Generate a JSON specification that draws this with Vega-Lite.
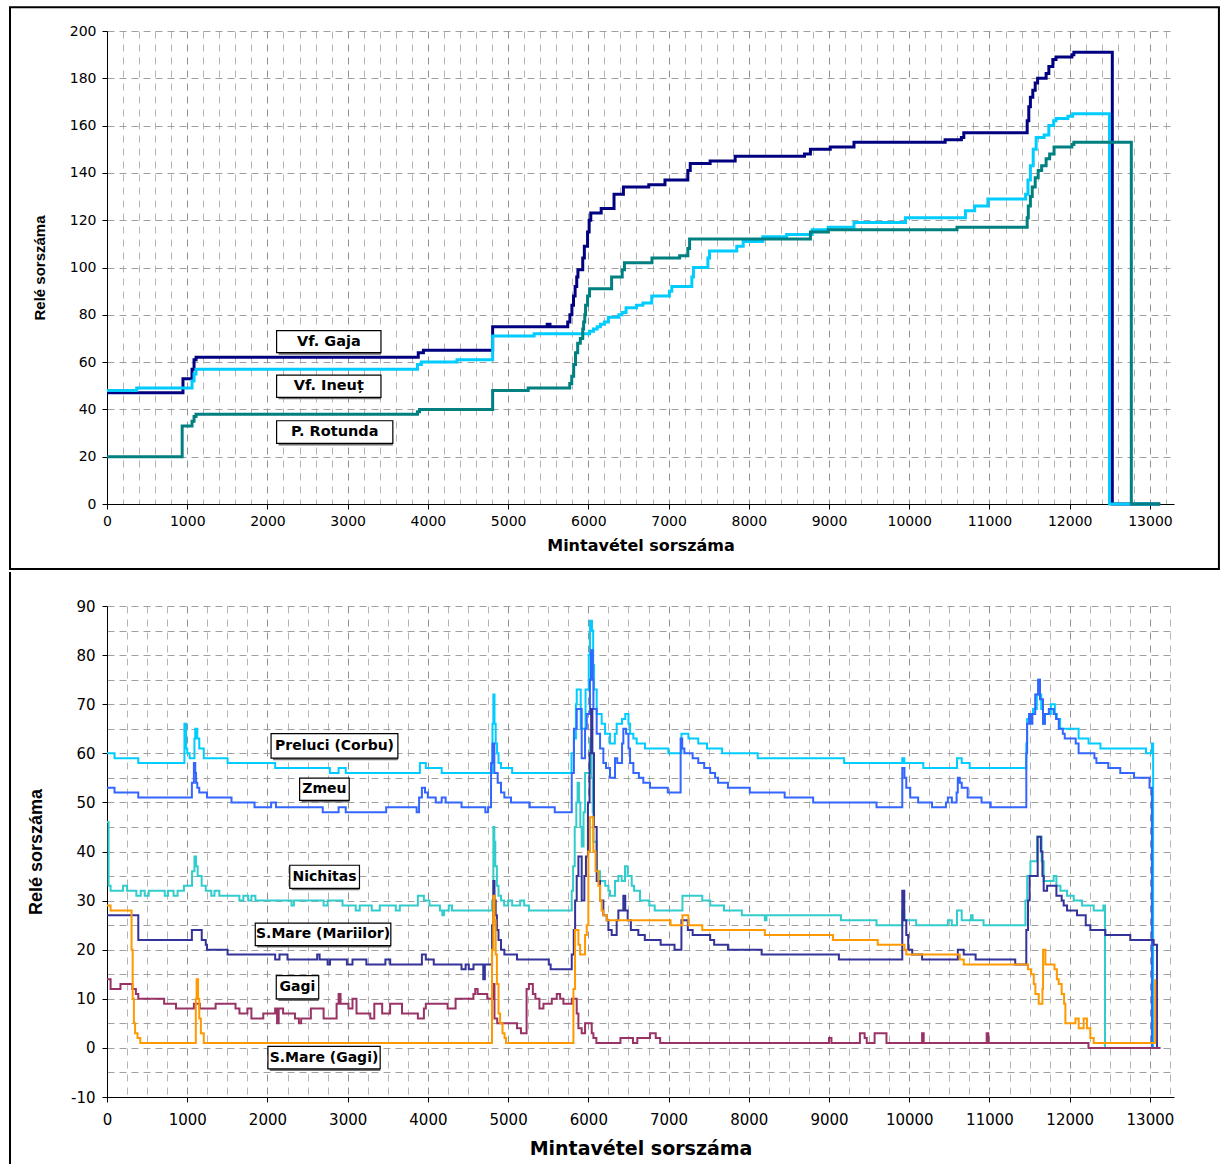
{
"$schema": "https://vega.github.io/schema/vega-lite/v6.json",
"padding": {"left": 9, "top": 6, "right": 0, "bottom": 0},
"background": "white",
"spacing": 0,
"resolve": {"scale": {"color": "independent"}},
"config": {
  "view": {"stroke": null},
  "axis": {"domainColor": "black", "tickColor": "black", "labelColor": "black", "titleColor": "black", "labelFont": "DejaVu Sans", "titleFont": "DejaVu Sans", "titleFontWeight": "bold", "gridColor": "#a8a8a8", "gridWidth": 1, "domainWidth": 1, "tickWidth": 1, "tickSize": 5, "labelOverlap": false, "labelFlush": false, "tickCount": 500}
},
"datasets": {
"top": [
{"s":"Vf. Gaja","x":0,"y":47},{"s":"Vf. Gaja","x":947,"y":53},{"s":"Vf. Gaja","x":1060,"y":57},{"s":"Vf. Gaja","x":1085,"y":61},{"s":"Vf. Gaja","x":1110,"y":62},{"s":"Vf. Gaja","x":3880,"y":64},{"s":"Vf. Gaja","x":3944,"y":65},{"s":"Vf. Gaja","x":4807,"y":75},{"s":"Vf. Gaja","x":5487,"y":76},{"s":"Vf. Gaja","x":5522,"y":75},{"s":"Vf. Gaja","x":5743,"y":77},{"s":"Vf. Gaja","x":5770,"y":80},{"s":"Vf. Gaja","x":5795,"y":84},{"s":"Vf. Gaja","x":5815,"y":88},{"s":"Vf. Gaja","x":5835,"y":92},{"s":"Vf. Gaja","x":5855,"y":96},{"s":"Vf. Gaja","x":5870,"y":99},{"s":"Vf. Gaja","x":5930,"y":104},{"s":"Vf. Gaja","x":5950,"y":109},{"s":"Vf. Gaja","x":5990,"y":115},{"s":"Vf. Gaja","x":6010,"y":120},{"s":"Vf. Gaja","x":6030,"y":123},{"s":"Vf. Gaja","x":6160,"y":125},{"s":"Vf. Gaja","x":6320,"y":131},{"s":"Vf. Gaja","x":6437,"y":134},{"s":"Vf. Gaja","x":6753,"y":135},{"s":"Vf. Gaja","x":6955,"y":137},{"s":"Vf. Gaja","x":7240,"y":141},{"s":"Vf. Gaja","x":7270,"y":144},{"s":"Vf. Gaja","x":7518,"y":145},{"s":"Vf. Gaja","x":7830,"y":147},{"s":"Vf. Gaja","x":8694,"y":148},{"s":"Vf. Gaja","x":8768,"y":150},{"s":"Vf. Gaja","x":9015,"y":151},{"s":"Vf. Gaja","x":9311,"y":153},{"s":"Vf. Gaja","x":10447,"y":154},{"s":"Vf. Gaja","x":10650,"y":155},{"s":"Vf. Gaja","x":10680,"y":157},{"s":"Vf. Gaja","x":11470,"y":162},{"s":"Vf. Gaja","x":11490,"y":168},{"s":"Vf. Gaja","x":11510,"y":172},{"s":"Vf. Gaja","x":11540,"y":175},{"s":"Vf. Gaja","x":11570,"y":178},{"s":"Vf. Gaja","x":11600,"y":180},{"s":"Vf. Gaja","x":11706,"y":182},{"s":"Vf. Gaja","x":11740,"y":185},{"s":"Vf. Gaja","x":11790,"y":188},{"s":"Vf. Gaja","x":11829,"y":189},{"s":"Vf. Gaja","x":12027,"y":190},{"s":"Vf. Gaja","x":12052,"y":191},{"s":"Vf. Gaja","x":12531,"y":0},{"s":"Vf. Gaja","x":13128,"y":0},
{"s":"Vf. Ineuț","x":0,"y":48},{"s":"Vf. Ineuț","x":370,"y":49},{"s":"Vf. Ineuț","x":1060,"y":52},{"s":"Vf. Ineuț","x":1085,"y":55},{"s":"Vf. Ineuț","x":1109,"y":57},{"s":"Vf. Ineuț","x":3870,"y":59},{"s":"Vf. Ineuț","x":3919,"y":60},{"s":"Vf. Ineuț","x":4363,"y":61},{"s":"Vf. Ineuț","x":4807,"y":71},{"s":"Vf. Ineuț","x":5324,"y":72},{"s":"Vf. Ineuț","x":6015,"y":73},{"s":"Vf. Ineuț","x":6064,"y":74},{"s":"Vf. Ineuț","x":6110,"y":75},{"s":"Vf. Ineuț","x":6150,"y":76},{"s":"Vf. Ineuț","x":6200,"y":77},{"s":"Vf. Ineuț","x":6250,"y":79},{"s":"Vf. Ineuț","x":6380,"y":80},{"s":"Vf. Ineuț","x":6420,"y":81},{"s":"Vf. Ineuț","x":6470,"y":83},{"s":"Vf. Ineuț","x":6600,"y":84},{"s":"Vf. Ineuț","x":6680,"y":85},{"s":"Vf. Ineuț","x":6790,"y":88},{"s":"Vf. Ineuț","x":7010,"y":90},{"s":"Vf. Ineuț","x":7040,"y":92},{"s":"Vf. Ineuț","x":7290,"y":96},{"s":"Vf. Ineuț","x":7310,"y":100},{"s":"Vf. Ineuț","x":7490,"y":104},{"s":"Vf. Ineuț","x":7510,"y":107},{"s":"Vf. Ineuț","x":7850,"y":109},{"s":"Vf. Ineuț","x":7930,"y":111},{"s":"Vf. Ineuț","x":8175,"y":113},{"s":"Vf. Ineuț","x":8472,"y":114},{"s":"Vf. Ineuț","x":8790,"y":116},{"s":"Vf. Ineuț","x":8990,"y":117},{"s":"Vf. Ineuț","x":9311,"y":119},{"s":"Vf. Ineuț","x":9953,"y":121},{"s":"Vf. Ineuț","x":10700,"y":124},{"s":"Vf. Ineuț","x":10815,"y":126},{"s":"Vf. Ineuț","x":10980,"y":129},{"s":"Vf. Ineuț","x":11450,"y":131},{"s":"Vf. Ineuț","x":11480,"y":137},{"s":"Vf. Ineuț","x":11510,"y":143},{"s":"Vf. Ineuț","x":11545,"y":150},{"s":"Vf. Ineuț","x":11582,"y":155},{"s":"Vf. Ineuț","x":11681,"y":156},{"s":"Vf. Ineuț","x":11740,"y":160},{"s":"Vf. Ineuț","x":11800,"y":162},{"s":"Vf. Ineuț","x":11829,"y":163},{"s":"Vf. Ineuț","x":11977,"y":164},{"s":"Vf. Ineuț","x":12037,"y":165},{"s":"Vf. Ineuț","x":12496,"y":0},{"s":"Vf. Ineuț","x":13128,"y":0},
{"s":"P. Rotunda","x":0,"y":20},{"s":"P. Rotunda","x":937,"y":33},{"s":"P. Rotunda","x":1060,"y":35},{"s":"P. Rotunda","x":1085,"y":37},{"s":"P. Rotunda","x":1110,"y":38},{"s":"P. Rotunda","x":3870,"y":39},{"s":"P. Rotunda","x":3895,"y":40},{"s":"P. Rotunda","x":4807,"y":48},{"s":"P. Rotunda","x":5250,"y":49},{"s":"P. Rotunda","x":5768,"y":51},{"s":"P. Rotunda","x":5793,"y":54},{"s":"P. Rotunda","x":5817,"y":59},{"s":"P. Rotunda","x":5840,"y":64},{"s":"P. Rotunda","x":5867,"y":68},{"s":"P. Rotunda","x":5900,"y":70},{"s":"P. Rotunda","x":5930,"y":74},{"s":"P. Rotunda","x":5941,"y":77},{"s":"P. Rotunda","x":5955,"y":80},{"s":"P. Rotunda","x":5965,"y":84},{"s":"P. Rotunda","x":5990,"y":88},{"s":"P. Rotunda","x":6015,"y":91},{"s":"P. Rotunda","x":6290,"y":96},{"s":"P. Rotunda","x":6422,"y":99},{"s":"P. Rotunda","x":6450,"y":102},{"s":"P. Rotunda","x":6793,"y":104},{"s":"P. Rotunda","x":7138,"y":105},{"s":"P. Rotunda","x":7240,"y":108},{"s":"P. Rotunda","x":7262,"y":112},{"s":"P. Rotunda","x":8768,"y":115},{"s":"P. Rotunda","x":8990,"y":116},{"s":"P. Rotunda","x":10595,"y":117},{"s":"P. Rotunda","x":11470,"y":121},{"s":"P. Rotunda","x":11484,"y":126},{"s":"P. Rotunda","x":11510,"y":130},{"s":"P. Rotunda","x":11533,"y":134},{"s":"P. Rotunda","x":11570,"y":138},{"s":"P. Rotunda","x":11607,"y":141},{"s":"P. Rotunda","x":11650,"y":143},{"s":"P. Rotunda","x":11706,"y":146},{"s":"P. Rotunda","x":11750,"y":148},{"s":"P. Rotunda","x":11805,"y":151},{"s":"P. Rotunda","x":12027,"y":152},{"s":"P. Rotunda","x":12052,"y":153},{"s":"P. Rotunda","x":12768,"y":0},{"s":"P. Rotunda","x":13128,"y":0}
],
"bot": [
{"s":"Preluci (Corbu)","x":0,"y":60},{"s":"Preluci (Corbu)","x":94,"y":59},{"s":"Preluci (Corbu)","x":390,"y":58},{"s":"Preluci (Corbu)","x":965,"y":66},{"s":"Preluci (Corbu)","x":985,"y":61},{"s":"Preluci (Corbu)","x":1000,"y":60},{"s":"Preluci (Corbu)","x":1030,"y":59},{"s":"Preluci (Corbu)","x":1090,"y":63},{"s":"Preluci (Corbu)","x":1100,"y":65},{"s":"Preluci (Corbu)","x":1125,"y":63},{"s":"Preluci (Corbu)","x":1150,"y":61},{"s":"Preluci (Corbu)","x":1206,"y":59},{"s":"Preluci (Corbu)","x":1503,"y":58},{"s":"Preluci (Corbu)","x":2096,"y":57},{"s":"Preluci (Corbu)","x":2778,"y":56},{"s":"Preluci (Corbu)","x":2887,"y":57},{"s":"Preluci (Corbu)","x":2976,"y":56},{"s":"Preluci (Corbu)","x":3900,"y":58},{"s":"Preluci (Corbu)","x":3974,"y":57},{"s":"Preluci (Corbu)","x":4172,"y":56},{"s":"Preluci (Corbu)","x":4805,"y":66},{"s":"Preluci (Corbu)","x":4816,"y":72},{"s":"Preluci (Corbu)","x":4830,"y":66},{"s":"Preluci (Corbu)","x":4845,"y":62},{"s":"Preluci (Corbu)","x":4862,"y":60},{"s":"Preluci (Corbu)","x":4880,"y":58},{"s":"Preluci (Corbu)","x":4911,"y":57},{"s":"Preluci (Corbu)","x":5050,"y":56},{"s":"Preluci (Corbu)","x":5790,"y":60},{"s":"Preluci (Corbu)","x":5820,"y":63},{"s":"Preluci (Corbu)","x":5845,"y":70},{"s":"Preluci (Corbu)","x":5855,"y":73},{"s":"Preluci (Corbu)","x":5905,"y":65},{"s":"Preluci (Corbu)","x":5965,"y":73},{"s":"Preluci (Corbu)","x":6005,"y":80},{"s":"Preluci (Corbu)","x":6021,"y":87},{"s":"Preluci (Corbu)","x":6045,"y":85},{"s":"Preluci (Corbu)","x":6060,"y":78},{"s":"Preluci (Corbu)","x":6070,"y":73},{"s":"Preluci (Corbu)","x":6104,"y":68},{"s":"Preluci (Corbu)","x":6166,"y":66},{"s":"Preluci (Corbu)","x":6208,"y":64},{"s":"Preluci (Corbu)","x":6270,"y":62},{"s":"Preluci (Corbu)","x":6330,"y":64},{"s":"Preluci (Corbu)","x":6353,"y":66},{"s":"Preluci (Corbu)","x":6420,"y":67},{"s":"Preluci (Corbu)","x":6460,"y":68},{"s":"Preluci (Corbu)","x":6500,"y":66},{"s":"Preluci (Corbu)","x":6520,"y":64},{"s":"Preluci (Corbu)","x":6561,"y":63},{"s":"Preluci (Corbu)","x":6602,"y":62},{"s":"Preluci (Corbu)","x":6706,"y":61},{"s":"Preluci (Corbu)","x":6997,"y":60},{"s":"Preluci (Corbu)","x":7160,"y":64},{"s":"Preluci (Corbu)","x":7247,"y":63},{"s":"Preluci (Corbu)","x":7370,"y":62},{"s":"Preluci (Corbu)","x":7479,"y":61},{"s":"Preluci (Corbu)","x":7667,"y":60},{"s":"Preluci (Corbu)","x":8111,"y":59},{"s":"Preluci (Corbu)","x":9188,"y":58},{"s":"Preluci (Corbu)","x":9913,"y":59},{"s":"Preluci (Corbu)","x":9938,"y":58},{"s":"Preluci (Corbu)","x":10175,"y":57},{"s":"Preluci (Corbu)","x":10595,"y":59},{"s":"Preluci (Corbu)","x":10654,"y":58},{"s":"Preluci (Corbu)","x":10753,"y":57},{"s":"Preluci (Corbu)","x":11459,"y":62},{"s":"Preluci (Corbu)","x":11469,"y":67},{"s":"Preluci (Corbu)","x":11494,"y":68},{"s":"Preluci (Corbu)","x":11543,"y":69},{"s":"Preluci (Corbu)","x":11590,"y":72},{"s":"Preluci (Corbu)","x":11607,"y":75},{"s":"Preluci (Corbu)","x":11625,"y":72},{"s":"Preluci (Corbu)","x":11645,"y":69},{"s":"Preluci (Corbu)","x":11667,"y":66},{"s":"Preluci (Corbu)","x":11691,"y":68},{"s":"Preluci (Corbu)","x":11765,"y":70},{"s":"Preluci (Corbu)","x":11815,"y":68},{"s":"Preluci (Corbu)","x":11840,"y":67},{"s":"Preluci (Corbu)","x":11880,"y":65},{"s":"Preluci (Corbu)","x":12111,"y":63},{"s":"Preluci (Corbu)","x":12235,"y":62},{"s":"Preluci (Corbu)","x":12383,"y":61},{"s":"Preluci (Corbu)","x":12951,"y":60},{"s":"Preluci (Corbu)","x":13025,"y":62},{"s":"Preluci (Corbu)","x":13040,"y":0},{"s":"Preluci (Corbu)","x":13128,"y":0},
{"s":"Zmeu","x":0,"y":53},{"s":"Zmeu","x":94,"y":52},{"s":"Zmeu","x":390,"y":51},{"s":"Zmeu","x":1058,"y":54},{"s":"Zmeu","x":1083,"y":58},{"s":"Zmeu","x":1100,"y":56},{"s":"Zmeu","x":1110,"y":54},{"s":"Zmeu","x":1125,"y":53},{"s":"Zmeu","x":1150,"y":52},{"s":"Zmeu","x":1246,"y":51},{"s":"Zmeu","x":1552,"y":50},{"s":"Zmeu","x":1839,"y":49},{"s":"Zmeu","x":2046,"y":50},{"s":"Zmeu","x":2106,"y":49},{"s":"Zmeu","x":2689,"y":48},{"s":"Zmeu","x":2887,"y":49},{"s":"Zmeu","x":2976,"y":48},{"s":"Zmeu","x":3480,"y":49},{"s":"Zmeu","x":3860,"y":48},{"s":"Zmeu","x":3890,"y":51},{"s":"Zmeu","x":3925,"y":53},{"s":"Zmeu","x":3964,"y":52},{"s":"Zmeu","x":3999,"y":51},{"s":"Zmeu","x":4098,"y":50},{"s":"Zmeu","x":4172,"y":51},{"s":"Zmeu","x":4221,"y":50},{"s":"Zmeu","x":4419,"y":49},{"s":"Zmeu","x":4716,"y":48},{"s":"Zmeu","x":4750,"y":49},{"s":"Zmeu","x":4787,"y":58},{"s":"Zmeu","x":4805,"y":62},{"s":"Zmeu","x":4828,"y":56},{"s":"Zmeu","x":4870,"y":54},{"s":"Zmeu","x":4911,"y":52},{"s":"Zmeu","x":4953,"y":51},{"s":"Zmeu","x":5036,"y":50},{"s":"Zmeu","x":5269,"y":49},{"s":"Zmeu","x":5581,"y":48},{"s":"Zmeu","x":5793,"y":56},{"s":"Zmeu","x":5820,"y":65},{"s":"Zmeu","x":5855,"y":69},{"s":"Zmeu","x":5917,"y":59},{"s":"Zmeu","x":5959,"y":65},{"s":"Zmeu","x":5980,"y":68},{"s":"Zmeu","x":6020,"y":75},{"s":"Zmeu","x":6033,"y":81},{"s":"Zmeu","x":6055,"y":75},{"s":"Zmeu","x":6063,"y":69},{"s":"Zmeu","x":6104,"y":64},{"s":"Zmeu","x":6146,"y":61},{"s":"Zmeu","x":6187,"y":58},{"s":"Zmeu","x":6220,"y":57},{"s":"Zmeu","x":6270,"y":55},{"s":"Zmeu","x":6332,"y":59},{"s":"Zmeu","x":6360,"y":58},{"s":"Zmeu","x":6420,"y":62},{"s":"Zmeu","x":6436,"y":65},{"s":"Zmeu","x":6470,"y":64},{"s":"Zmeu","x":6500,"y":61},{"s":"Zmeu","x":6520,"y":58},{"s":"Zmeu","x":6561,"y":56},{"s":"Zmeu","x":6630,"y":55},{"s":"Zmeu","x":6685,"y":54},{"s":"Zmeu","x":6768,"y":53},{"s":"Zmeu","x":6990,"y":52},{"s":"Zmeu","x":7150,"y":63},{"s":"Zmeu","x":7170,"y":61},{"s":"Zmeu","x":7197,"y":60},{"s":"Zmeu","x":7300,"y":59},{"s":"Zmeu","x":7370,"y":58},{"s":"Zmeu","x":7444,"y":57},{"s":"Zmeu","x":7518,"y":56},{"s":"Zmeu","x":7580,"y":55},{"s":"Zmeu","x":7617,"y":54},{"s":"Zmeu","x":7740,"y":53},{"s":"Zmeu","x":8012,"y":52},{"s":"Zmeu","x":8447,"y":51},{"s":"Zmeu","x":8802,"y":50},{"s":"Zmeu","x":9592,"y":49},{"s":"Zmeu","x":9913,"y":57},{"s":"Zmeu","x":9940,"y":55},{"s":"Zmeu","x":9963,"y":53},{"s":"Zmeu","x":10012,"y":51},{"s":"Zmeu","x":10111,"y":50},{"s":"Zmeu","x":10284,"y":49},{"s":"Zmeu","x":10457,"y":50},{"s":"Zmeu","x":10481,"y":51},{"s":"Zmeu","x":10531,"y":50},{"s":"Zmeu","x":10590,"y":52},{"s":"Zmeu","x":10605,"y":55},{"s":"Zmeu","x":10630,"y":54},{"s":"Zmeu","x":10654,"y":53},{"s":"Zmeu","x":10728,"y":51},{"s":"Zmeu","x":10901,"y":50},{"s":"Zmeu","x":11015,"y":49},{"s":"Zmeu","x":11459,"y":60},{"s":"Zmeu","x":11469,"y":66},{"s":"Zmeu","x":11494,"y":68},{"s":"Zmeu","x":11515,"y":66},{"s":"Zmeu","x":11535,"y":68},{"s":"Zmeu","x":11570,"y":72},{"s":"Zmeu","x":11607,"y":75},{"s":"Zmeu","x":11630,"y":71},{"s":"Zmeu","x":11667,"y":66},{"s":"Zmeu","x":11691,"y":68},{"s":"Zmeu","x":11740,"y":69},{"s":"Zmeu","x":11800,"y":68},{"s":"Zmeu","x":11830,"y":67},{"s":"Zmeu","x":11864,"y":65},{"s":"Zmeu","x":11914,"y":64},{"s":"Zmeu","x":11938,"y":63},{"s":"Zmeu","x":12075,"y":62},{"s":"Zmeu","x":12111,"y":60},{"s":"Zmeu","x":12308,"y":59},{"s":"Zmeu","x":12333,"y":58},{"s":"Zmeu","x":12481,"y":57},{"s":"Zmeu","x":12630,"y":56},{"s":"Zmeu","x":12802,"y":55},{"s":"Zmeu","x":12995,"y":53},{"s":"Zmeu","x":13025,"y":0},{"s":"Zmeu","x":13128,"y":0},
{"s":"Nichitas","x":0,"y":46},{"s":"Nichitas","x":20,"y":33},{"s":"Nichitas","x":45,"y":32},{"s":"Nichitas","x":200,"y":33},{"s":"Nichitas","x":250,"y":32},{"s":"Nichitas","x":366,"y":31},{"s":"Nichitas","x":420,"y":32},{"s":"Nichitas","x":470,"y":31},{"s":"Nichitas","x":520,"y":32},{"s":"Nichitas","x":720,"y":31},{"s":"Nichitas","x":760,"y":32},{"s":"Nichitas","x":830,"y":31},{"s":"Nichitas","x":880,"y":32},{"s":"Nichitas","x":959,"y":33},{"s":"Nichitas","x":1060,"y":36},{"s":"Nichitas","x":1090,"y":39},{"s":"Nichitas","x":1110,"y":37},{"s":"Nichitas","x":1130,"y":35},{"s":"Nichitas","x":1180,"y":33},{"s":"Nichitas","x":1231,"y":32},{"s":"Nichitas","x":1300,"y":31},{"s":"Nichitas","x":1340,"y":32},{"s":"Nichitas","x":1400,"y":31},{"s":"Nichitas","x":1650,"y":30},{"s":"Nichitas","x":1700,"y":31},{"s":"Nichitas","x":1760,"y":30},{"s":"Nichitas","x":1800,"y":31},{"s":"Nichitas","x":1850,"y":30},{"s":"Nichitas","x":2300,"y":29},{"s":"Nichitas","x":2330,"y":30},{"s":"Nichitas","x":2700,"y":29},{"s":"Nichitas","x":2750,"y":30},{"s":"Nichitas","x":2936,"y":29},{"s":"Nichitas","x":3100,"y":28},{"s":"Nichitas","x":3150,"y":29},{"s":"Nichitas","x":3300,"y":28},{"s":"Nichitas","x":3400,"y":29},{"s":"Nichitas","x":3600,"y":28},{"s":"Nichitas","x":3650,"y":29},{"s":"Nichitas","x":3875,"y":31},{"s":"Nichitas","x":3950,"y":30},{"s":"Nichitas","x":4020,"y":29},{"s":"Nichitas","x":4150,"y":28},{"s":"Nichitas","x":4180,"y":27},{"s":"Nichitas","x":4200,"y":28},{"s":"Nichitas","x":4260,"y":29},{"s":"Nichitas","x":4300,"y":28},{"s":"Nichitas","x":4800,"y":30},{"s":"Nichitas","x":4816,"y":45},{"s":"Nichitas","x":4828,"y":42},{"s":"Nichitas","x":4840,"y":37},{"s":"Nichitas","x":4860,"y":33},{"s":"Nichitas","x":4880,"y":31},{"s":"Nichitas","x":4911,"y":30},{"s":"Nichitas","x":4950,"y":29},{"s":"Nichitas","x":5000,"y":30},{"s":"Nichitas","x":5050,"y":29},{"s":"Nichitas","x":5150,"y":30},{"s":"Nichitas","x":5200,"y":29},{"s":"Nichitas","x":5259,"y":28},{"s":"Nichitas","x":5793,"y":32},{"s":"Nichitas","x":5810,"y":37},{"s":"Nichitas","x":5830,"y":45},{"s":"Nichitas","x":5850,"y":50},{"s":"Nichitas","x":5866,"y":54},{"s":"Nichitas","x":5885,"y":50},{"s":"Nichitas","x":5900,"y":45},{"s":"Nichitas","x":5917,"y":41},{"s":"Nichitas","x":5940,"y":48},{"s":"Nichitas","x":5959,"y":56},{"s":"Nichitas","x":6021,"y":63},{"s":"Nichitas","x":6042,"y":55},{"s":"Nichitas","x":6055,"y":48},{"s":"Nichitas","x":6063,"y":42},{"s":"Nichitas","x":6104,"y":36},{"s":"Nichitas","x":6146,"y":34},{"s":"Nichitas","x":6210,"y":33},{"s":"Nichitas","x":6250,"y":32},{"s":"Nichitas","x":6270,"y":31},{"s":"Nichitas","x":6332,"y":34},{"s":"Nichitas","x":6374,"y":35},{"s":"Nichitas","x":6415,"y":34},{"s":"Nichitas","x":6457,"y":37},{"s":"Nichitas","x":6490,"y":35},{"s":"Nichitas","x":6540,"y":33},{"s":"Nichitas","x":6570,"y":32},{"s":"Nichitas","x":6644,"y":30},{"s":"Nichitas","x":6760,"y":29},{"s":"Nichitas","x":6827,"y":28},{"s":"Nichitas","x":7173,"y":31},{"s":"Nichitas","x":7420,"y":30},{"s":"Nichitas","x":7518,"y":29},{"s":"Nichitas","x":7691,"y":28},{"s":"Nichitas","x":7913,"y":27},{"s":"Nichitas","x":8200,"y":26},{"s":"Nichitas","x":8220,"y":27},{"s":"Nichitas","x":9148,"y":26},{"s":"Nichitas","x":9592,"y":25},{"s":"Nichitas","x":9913,"y":28},{"s":"Nichitas","x":9938,"y":26},{"s":"Nichitas","x":10086,"y":25},{"s":"Nichitas","x":10481,"y":26},{"s":"Nichitas","x":10531,"y":25},{"s":"Nichitas","x":10595,"y":28},{"s":"Nichitas","x":10654,"y":26},{"s":"Nichitas","x":10770,"y":27},{"s":"Nichitas","x":10790,"y":26},{"s":"Nichitas","x":10926,"y":25},{"s":"Nichitas","x":11448,"y":30},{"s":"Nichitas","x":11470,"y":35},{"s":"Nichitas","x":11510,"y":38},{"s":"Nichitas","x":11593,"y":43},{"s":"Nichitas","x":11650,"y":38},{"s":"Nichitas","x":11676,"y":34},{"s":"Nichitas","x":11800,"y":35},{"s":"Nichitas","x":11834,"y":33},{"s":"Nichitas","x":11884,"y":32},{"s":"Nichitas","x":11967,"y":31},{"s":"Nichitas","x":12050,"y":30},{"s":"Nichitas","x":12154,"y":29},{"s":"Nichitas","x":12299,"y":28},{"s":"Nichitas","x":12420,"y":29},{"s":"Nichitas","x":12440,"y":0},{"s":"Nichitas","x":13128,"y":0},
{"s":"S.Mare (Mariilor)","x":0,"y":27},{"s":"S.Mare (Mariilor)","x":390,"y":22},{"s":"S.Mare (Mariilor)","x":1058,"y":24},{"s":"S.Mare (Mariilor)","x":1181,"y":22},{"s":"S.Mare (Mariilor)","x":1231,"y":21},{"s":"S.Mare (Mariilor)","x":1246,"y":20},{"s":"S.Mare (Mariilor)","x":1503,"y":19},{"s":"S.Mare (Mariilor)","x":2096,"y":18},{"s":"S.Mare (Mariilor)","x":2150,"y":19},{"s":"S.Mare (Mariilor)","x":2250,"y":18},{"s":"S.Mare (Mariilor)","x":2620,"y":19},{"s":"S.Mare (Mariilor)","x":2650,"y":18},{"s":"S.Mare (Mariilor)","x":2750,"y":17},{"s":"S.Mare (Mariilor)","x":2780,"y":18},{"s":"S.Mare (Mariilor)","x":2990,"y":17},{"s":"S.Mare (Mariilor)","x":3060,"y":18},{"s":"S.Mare (Mariilor)","x":3233,"y":17},{"s":"S.Mare (Mariilor)","x":3470,"y":18},{"s":"S.Mare (Mariilor)","x":3530,"y":17},{"s":"S.Mare (Mariilor)","x":3925,"y":19},{"s":"S.Mare (Mariilor)","x":3974,"y":18},{"s":"S.Mare (Mariilor)","x":4073,"y":17},{"s":"S.Mare (Mariilor)","x":4419,"y":16},{"s":"S.Mare (Mariilor)","x":4470,"y":17},{"s":"S.Mare (Mariilor)","x":4510,"y":16},{"s":"S.Mare (Mariilor)","x":4568,"y":17},{"s":"S.Mare (Mariilor)","x":4690,"y":14},{"s":"S.Mare (Mariilor)","x":4710,"y":17},{"s":"S.Mare (Mariilor)","x":4800,"y":25},{"s":"S.Mare (Mariilor)","x":4816,"y":34},{"s":"S.Mare (Mariilor)","x":4830,"y":30},{"s":"S.Mare (Mariilor)","x":4845,"y":27},{"s":"S.Mare (Mariilor)","x":4860,"y":24},{"s":"S.Mare (Mariilor)","x":4880,"y":22},{"s":"S.Mare (Mariilor)","x":4911,"y":20},{"s":"S.Mare (Mariilor)","x":4953,"y":19},{"s":"S.Mare (Mariilor)","x":5111,"y":18},{"s":"S.Mare (Mariilor)","x":5507,"y":17},{"s":"S.Mare (Mariilor)","x":5530,"y":16},{"s":"S.Mare (Mariilor)","x":5793,"y":19},{"s":"S.Mare (Mariilor)","x":5818,"y":24},{"s":"S.Mare (Mariilor)","x":5835,"y":30},{"s":"S.Mare (Mariilor)","x":5855,"y":35},{"s":"S.Mare (Mariilor)","x":5876,"y":39},{"s":"S.Mare (Mariilor)","x":5917,"y":30},{"s":"S.Mare (Mariilor)","x":5950,"y":35},{"s":"S.Mare (Mariilor)","x":5970,"y":39},{"s":"S.Mare (Mariilor)","x":5995,"y":50},{"s":"S.Mare (Mariilor)","x":6015,"y":60},{"s":"S.Mare (Mariilor)","x":6035,"y":69},{"s":"S.Mare (Mariilor)","x":6050,"y":60},{"s":"S.Mare (Mariilor)","x":6070,"y":45},{"s":"S.Mare (Mariilor)","x":6104,"y":34},{"s":"S.Mare (Mariilor)","x":6146,"y":30},{"s":"S.Mare (Mariilor)","x":6187,"y":27},{"s":"S.Mare (Mariilor)","x":6229,"y":26},{"s":"S.Mare (Mariilor)","x":6250,"y":24},{"s":"S.Mare (Mariilor)","x":6291,"y":23},{"s":"S.Mare (Mariilor)","x":6353,"y":26},{"s":"S.Mare (Mariilor)","x":6374,"y":28},{"s":"S.Mare (Mariilor)","x":6436,"y":31},{"s":"S.Mare (Mariilor)","x":6460,"y":28},{"s":"S.Mare (Mariilor)","x":6490,"y":26},{"s":"S.Mare (Mariilor)","x":6530,"y":24},{"s":"S.Mare (Mariilor)","x":6623,"y":23},{"s":"S.Mare (Mariilor)","x":6704,"y":22},{"s":"S.Mare (Mariilor)","x":6901,"y":21},{"s":"S.Mare (Mariilor)","x":7074,"y":20},{"s":"S.Mare (Mariilor)","x":7160,"y":26},{"s":"S.Mare (Mariilor)","x":7240,"y":24},{"s":"S.Mare (Mariilor)","x":7300,"y":23},{"s":"S.Mare (Mariilor)","x":7518,"y":22},{"s":"S.Mare (Mariilor)","x":7568,"y":21},{"s":"S.Mare (Mariilor)","x":7740,"y":20},{"s":"S.Mare (Mariilor)","x":8160,"y":19},{"s":"S.Mare (Mariilor)","x":9123,"y":18},{"s":"S.Mare (Mariilor)","x":9913,"y":32},{"s":"S.Mare (Mariilor)","x":9938,"y":26},{"s":"S.Mare (Mariilor)","x":9963,"y":23},{"s":"S.Mare (Mariilor)","x":9987,"y":20},{"s":"S.Mare (Mariilor)","x":10037,"y":19},{"s":"S.Mare (Mariilor)","x":10160,"y":18},{"s":"S.Mare (Mariilor)","x":10605,"y":20},{"s":"S.Mare (Mariilor)","x":10679,"y":19},{"s":"S.Mare (Mariilor)","x":10827,"y":18},{"s":"S.Mare (Mariilor)","x":11321,"y":17},{"s":"S.Mare (Mariilor)","x":11459,"y":24},{"s":"S.Mare (Mariilor)","x":11480,"y":30},{"s":"S.Mare (Mariilor)","x":11500,"y":35},{"s":"S.Mare (Mariilor)","x":11601,"y":43},{"s":"S.Mare (Mariilor)","x":11640,"y":40},{"s":"S.Mare (Mariilor)","x":11660,"y":35},{"s":"S.Mare (Mariilor)","x":11676,"y":32},{"s":"S.Mare (Mariilor)","x":11718,"y":33},{"s":"S.Mare (Mariilor)","x":11834,"y":31},{"s":"S.Mare (Mariilor)","x":11900,"y":30},{"s":"S.Mare (Mariilor)","x":11925,"y":29},{"s":"S.Mare (Mariilor)","x":11967,"y":28},{"s":"S.Mare (Mariilor)","x":12091,"y":27},{"s":"S.Mare (Mariilor)","x":12200,"y":25},{"s":"S.Mare (Mariilor)","x":12257,"y":24},{"s":"S.Mare (Mariilor)","x":12444,"y":23},{"s":"S.Mare (Mariilor)","x":12755,"y":22},{"s":"S.Mare (Mariilor)","x":13046,"y":21},{"s":"S.Mare (Mariilor)","x":13088,"y":0},{"s":"S.Mare (Mariilor)","x":13128,"y":0},
{"s":"Gagi","x":0,"y":14},{"s":"Gagi","x":45,"y":12},{"s":"Gagi","x":168,"y":13},{"s":"Gagi","x":316,"y":12},{"s":"Gagi","x":360,"y":11},{"s":"Gagi","x":390,"y":10},{"s":"Gagi","x":712,"y":9},{"s":"Gagi","x":860,"y":8},{"s":"Gagi","x":1083,"y":9},{"s":"Gagi","x":1157,"y":8},{"s":"Gagi","x":1354,"y":9},{"s":"Gagi","x":1602,"y":8},{"s":"Gagi","x":1651,"y":7},{"s":"Gagi","x":1750,"y":8},{"s":"Gagi","x":1800,"y":6},{"s":"Gagi","x":1948,"y":7},{"s":"Gagi","x":2096,"y":8},{"s":"Gagi","x":2120,"y":5},{"s":"Gagi","x":2140,"y":8},{"s":"Gagi","x":2195,"y":7},{"s":"Gagi","x":2343,"y":6},{"s":"Gagi","x":2392,"y":5},{"s":"Gagi","x":2420,"y":6},{"s":"Gagi","x":2541,"y":8},{"s":"Gagi","x":2700,"y":6},{"s":"Gagi","x":2862,"y":9},{"s":"Gagi","x":2887,"y":11},{"s":"Gagi","x":2911,"y":9},{"s":"Gagi","x":3010,"y":8},{"s":"Gagi","x":3060,"y":10},{"s":"Gagi","x":3110,"y":7},{"s":"Gagi","x":3282,"y":6},{"s":"Gagi","x":3332,"y":9},{"s":"Gagi","x":3430,"y":7},{"s":"Gagi","x":3529,"y":9},{"s":"Gagi","x":3677,"y":7},{"s":"Gagi","x":3875,"y":6},{"s":"Gagi","x":3950,"y":8},{"s":"Gagi","x":3974,"y":9},{"s":"Gagi","x":4246,"y":8},{"s":"Gagi","x":4345,"y":10},{"s":"Gagi","x":4567,"y":11},{"s":"Gagi","x":4590,"y":12},{"s":"Gagi","x":4620,"y":11},{"s":"Gagi","x":4740,"y":10},{"s":"Gagi","x":4815,"y":13},{"s":"Gagi","x":4830,"y":6},{"s":"Gagi","x":4864,"y":5},{"s":"Gagi","x":5111,"y":4},{"s":"Gagi","x":5160,"y":3},{"s":"Gagi","x":5230,"y":12},{"s":"Gagi","x":5259,"y":13},{"s":"Gagi","x":5308,"y":11},{"s":"Gagi","x":5340,"y":10},{"s":"Gagi","x":5390,"y":8},{"s":"Gagi","x":5440,"y":9},{"s":"Gagi","x":5544,"y":10},{"s":"Gagi","x":5606,"y":11},{"s":"Gagi","x":5648,"y":10},{"s":"Gagi","x":5689,"y":9},{"s":"Gagi","x":5793,"y":10},{"s":"Gagi","x":5855,"y":7},{"s":"Gagi","x":5876,"y":4},{"s":"Gagi","x":5917,"y":3},{"s":"Gagi","x":5959,"y":5},{"s":"Gagi","x":6042,"y":3},{"s":"Gagi","x":6063,"y":2},{"s":"Gagi","x":6100,"y":1},{"s":"Gagi","x":6400,"y":2},{"s":"Gagi","x":6556,"y":1},{"s":"Gagi","x":6610,"y":2},{"s":"Gagi","x":6768,"y":3},{"s":"Gagi","x":6840,"y":2},{"s":"Gagi","x":6895,"y":1},{"s":"Gagi","x":9000,"y":2},{"s":"Gagi","x":9030,"y":1},{"s":"Gagi","x":9385,"y":3},{"s":"Gagi","x":9444,"y":2},{"s":"Gagi","x":9470,"y":1},{"s":"Gagi","x":9568,"y":3},{"s":"Gagi","x":9716,"y":1},{"s":"Gagi","x":10160,"y":3},{"s":"Gagi","x":10180,"y":1},{"s":"Gagi","x":10965,"y":3},{"s":"Gagi","x":10985,"y":1},{"s":"Gagi","x":12234,"y":0},{"s":"Gagi","x":13128,"y":0},
{"s":"S.Mare (Gagi)","x":0,"y":29},{"s":"S.Mare (Gagi)","x":45,"y":28},{"s":"S.Mare (Gagi)","x":306,"y":20},{"s":"S.Mare (Gagi)","x":320,"y":10},{"s":"S.Mare (Gagi)","x":335,"y":5},{"s":"S.Mare (Gagi)","x":350,"y":3},{"s":"S.Mare (Gagi)","x":380,"y":2},{"s":"S.Mare (Gagi)","x":415,"y":1},{"s":"S.Mare (Gagi)","x":1107,"y":10},{"s":"S.Mare (Gagi)","x":1117,"y":14},{"s":"S.Mare (Gagi)","x":1135,"y":10},{"s":"S.Mare (Gagi)","x":1150,"y":6},{"s":"S.Mare (Gagi)","x":1170,"y":3},{"s":"S.Mare (Gagi)","x":1206,"y":1},{"s":"S.Mare (Gagi)","x":4799,"y":20},{"s":"S.Mare (Gagi)","x":4815,"y":31},{"s":"S.Mare (Gagi)","x":4830,"y":26},{"s":"S.Mare (Gagi)","x":4845,"y":19},{"s":"S.Mare (Gagi)","x":4860,"y":13},{"s":"S.Mare (Gagi)","x":4880,"y":7},{"s":"S.Mare (Gagi)","x":4900,"y":5},{"s":"S.Mare (Gagi)","x":4930,"y":3},{"s":"S.Mare (Gagi)","x":4955,"y":2},{"s":"S.Mare (Gagi)","x":4974,"y":1},{"s":"S.Mare (Gagi)","x":5814,"y":12},{"s":"S.Mare (Gagi)","x":5834,"y":24},{"s":"S.Mare (Gagi)","x":5876,"y":21},{"s":"S.Mare (Gagi)","x":5897,"y":19},{"s":"S.Mare (Gagi)","x":5959,"y":23},{"s":"S.Mare (Gagi)","x":5980,"y":25},{"s":"S.Mare (Gagi)","x":6000,"y":40},{"s":"S.Mare (Gagi)","x":6021,"y":47},{"s":"S.Mare (Gagi)","x":6063,"y":40},{"s":"S.Mare (Gagi)","x":6090,"y":36},{"s":"S.Mare (Gagi)","x":6125,"y":33},{"s":"S.Mare (Gagi)","x":6146,"y":30},{"s":"S.Mare (Gagi)","x":6166,"y":28},{"s":"S.Mare (Gagi)","x":6187,"y":27},{"s":"S.Mare (Gagi)","x":6229,"y":26},{"s":"S.Mare (Gagi)","x":7025,"y":25},{"s":"S.Mare (Gagi)","x":7173,"y":27},{"s":"S.Mare (Gagi)","x":7247,"y":25},{"s":"S.Mare (Gagi)","x":7420,"y":24},{"s":"S.Mare (Gagi)","x":8200,"y":23},{"s":"S.Mare (Gagi)","x":9049,"y":22},{"s":"S.Mare (Gagi)","x":9607,"y":21},{"s":"S.Mare (Gagi)","x":9940,"y":20},{"s":"S.Mare (Gagi)","x":9963,"y":19},{"s":"S.Mare (Gagi)","x":10630,"y":18},{"s":"S.Mare (Gagi)","x":10679,"y":17},{"s":"S.Mare (Gagi)","x":11480,"y":16},{"s":"S.Mare (Gagi)","x":11520,"y":15},{"s":"S.Mare (Gagi)","x":11552,"y":13},{"s":"S.Mare (Gagi)","x":11572,"y":11},{"s":"S.Mare (Gagi)","x":11614,"y":9},{"s":"S.Mare (Gagi)","x":11660,"y":12},{"s":"S.Mare (Gagi)","x":11668,"y":20},{"s":"S.Mare (Gagi)","x":11697,"y":17},{"s":"S.Mare (Gagi)","x":11810,"y":16},{"s":"S.Mare (Gagi)","x":11840,"y":14},{"s":"S.Mare (Gagi)","x":11863,"y":13},{"s":"S.Mare (Gagi)","x":11900,"y":11},{"s":"S.Mare (Gagi)","x":11930,"y":9},{"s":"S.Mare (Gagi)","x":11946,"y":5},{"s":"S.Mare (Gagi)","x":12071,"y":6},{"s":"S.Mare (Gagi)","x":12112,"y":4},{"s":"S.Mare (Gagi)","x":12174,"y":6},{"s":"S.Mare (Gagi)","x":12215,"y":4},{"s":"S.Mare (Gagi)","x":12257,"y":2},{"s":"S.Mare (Gagi)","x":12299,"y":1},{"s":"S.Mare (Gagi)","x":13066,"y":14}
],
"toplab": [
{"t":"Vf. Gaja","xl":2114,"xr":3415,"yb":64.0,"yt":73.3,"xc":2765,"yc":68.65},
{"t":"Vf. Ineuț","xl":2114,"xr":3415,"yb":45.1,"yt":54.5,"xc":2765,"yc":49.8},
{"t":"P. Rotunda","xl":2114,"xr":3563,"yb":25.6,"yt":35.2,"xc":2839,"yc":30.4}
],
"botlab": [
{"t":"Preluci (Corbu)","xl":2045,"xr":3626,"yb":59.0,"yt":64.0,"xc":2836,"yc":61.5},
{"t":"Zmeu","xl":2401,"xr":3019,"yb":50.4,"yt":54.95,"xc":2710,"yc":52.7},
{"t":"Nichitas","xl":2278,"xr":3147,"yb":32.5,"yt":37.2,"xc":2712,"yc":34.85},
{"t":"S.Mare (Mariilor)","xl":1848,"xr":3538,"yb":20.85,"yt":25.4,"xc":2693,"yc":23.1},
{"t":"Gagi","xl":2110,"xr":2639,"yb":9.97,"yt":14.74,"xc":2374,"yc":12.35},
{"t":"S.Mare (Gagi)","xl":2006,"xr":3405,"yb":-4.29,"yt":0.33,"xc":2705,"yc":-1.98}
]
},
"vconcat": [
{
  "width": 1067, "height": 473,
  "layer": [
    {"data": {"name": "top"},
     "mark": {"type": "line", "interpolate": "step-after", "strokeWidth": 3},
     "encoding": {
       "x": {"field": "x", "type": "quantitative", "scale": {"domain": [0, 13300], "nice": false, "zero": false},
             "axis": {"title": "Mintavétel sorszáma", "titleFontSize": 16, "titlePadding": 9, "labelFontSize": 14, "labelPadding": 5, "tickCount": 500,
                      "values": [0,200,400,600,800,1000,1200,1400,1600,1800,2000,2200,2400,2600,2800,3000,3200,3400,3600,3800,4000,4200,4400,4600,4800,5000,5200,5400,5600,5800,6000,6200,6400,6600,6800,7000,7200,7400,7600,7800,8000,8200,8400,8600,8800,9000,9200,9400,9600,9800,10000,10200,10400,10600,10800,11000,11200,11400,11600,11800,12000,12200,12400,12600,12800,13000,13200],
                      "labelExpr": "datum.value % 1000 === 0 ? '' + datum.value : ''",
                      "tickOpacity": {"condition": {"test": "datum.value % 1000 === 0", "value": 1}, "value": 0},
                      "gridDash": [7, 6],
                      "gridColor": {"condition": {"test": "datum.value % 1000 === 0", "value": "#909090"}, "value": "#b4b4b4"}}},
       "y": {"field": "y", "type": "quantitative", "scale": {"domain": [0, 200], "nice": false, "zero": false},
             "axis": {"title": "Relé sorszáma", "titleFont": "Liberation Sans", "titleFontSize": 15, "titlePadding": 22, "labelFontSize": 14, "labelPadding": 6, "tickCount": 500,
                      "labelExpr": "'' + datum.value",
                      "values": [0,20,40,60,80,100,120,140,160,180,200], "gridDash": [7, 5], "gridColor": "#a0a0a0"}},
       "color": {"field": "s", "type": "nominal", "scale": {"domain": ["Vf. Gaja", "Vf. Ineuț", "P. Rotunda"], "range": ["#000080", "#00CCFF", "#008080"]}, "legend": null}
     }},
    {"data": {"values": [{}]},
     "mark": {"type": "rect", "fill": "white", "fillOpacity": 0, "stroke": "black", "strokeWidth": 2},
     "encoding": {
       "x": {"datum": -1209, "type": "quantitative", "scale": {"domain": [0, 13300], "nice": false, "zero": false}},
       "x2": {"datum": 13860},
       "y": {"datum": -27.47, "type": "quantitative", "scale": {"domain": [0, 200], "nice": false, "zero": false}},
       "y2": {"datum": 210}
     }},
    {"data": {"name": "toplab"},
     "mark": {"type": "rect", "fill": "#707070", "xOffset": 2, "yOffset": 2},
     "encoding": {
       "x": {"field": "xl", "type": "quantitative", "scale": {"domain": [0, 13300], "nice": false, "zero": false}},
       "x2": {"field": "xr"},
       "y": {"field": "yb", "type": "quantitative", "scale": {"domain": [0, 200], "nice": false, "zero": false}},
       "y2": {"field": "yt"}
     }},
    {"data": {"name": "toplab"},
     "mark": {"type": "rect", "fill": "white", "stroke": "black", "strokeWidth": 1.2},
     "encoding": {
       "x": {"field": "xl", "type": "quantitative", "scale": {"domain": [0, 13300], "nice": false, "zero": false}},
       "x2": {"field": "xr"},
       "y": {"field": "yb", "type": "quantitative", "scale": {"domain": [0, 200], "nice": false, "zero": false}},
       "y2": {"field": "yt"}
     }},
    {"data": {"name": "toplab"},
     "mark": {"type": "text", "font": "DejaVu Sans", "fontWeight": "bold", "fontSize": 14.5, "color": "black", "align": "center", "baseline": "middle"},
     "encoding": {
       "x": {"field": "xc", "type": "quantitative", "scale": {"domain": [0, 13300], "nice": false, "zero": false}},
       "y": {"field": "yc", "type": "quantitative", "scale": {"domain": [0, 200], "nice": false, "zero": false}},
       "text": {"field": "t"}
     }}
  ]
},
{
  "width": 1067, "height": 491,
  "layer": [
    {"data": {"name": "bot"},
     "mark": {"type": "line", "interpolate": "step-after", "strokeWidth": 2},
     "encoding": {
       "x": {"field": "x", "type": "quantitative", "scale": {"domain": [0, 13300], "nice": false, "zero": false},
             "axis": {"title": "Mintavétel sorszáma", "titleFontSize": 19, "titlePadding": 12, "labelFontSize": 15, "labelPadding": 10, "tickCount": 500,
                      "values": [0,250,500,750,1000,1250,1500,1750,2000,2250,2500,2750,3000,3250,3500,3750,4000,4250,4500,4750,5000,5250,5500,5750,6000,6250,6500,6750,7000,7250,7500,7750,8000,8250,8500,8750,9000,9250,9500,9750,10000,10250,10500,10750,11000,11250,11500,11750,12000,12250,12500,12750,13000,13250],
                      "labelExpr": "datum.value % 1000 === 0 ? '' + datum.value : ''",
                      "tickOpacity": {"condition": {"test": "datum.value % 1000 === 0", "value": 1}, "value": 0},
                      "gridDash": [7, 6],
                      "gridColor": {"condition": {"test": "datum.value % 1000 === 0", "value": "#909090"}, "value": "#b4b4b4"}}},
       "y": {"field": "y", "type": "quantitative", "scale": {"domain": [-10, 90], "nice": false, "zero": false},
             "axis": {"title": "Relé sorszáma", "titleFont": "Liberation Sans", "titleFontSize": 18, "titlePadding": 25, "labelFontSize": 15, "labelPadding": 7, "tickCount": 500,
                      "values": [-10,-5,0,5,10,15,20,25,30,35,40,45,50,55,60,65,70,75,80,85,90],
                      "labelExpr": "datum.value % 10 === 0 ? '' + datum.value : ''",
                      "tickOpacity": {"condition": {"test": "datum.value % 10 === 0", "value": 1}, "value": 0},
                      "gridDash": [7, 5], "gridColor": "#a0a0a0"}},
       "color": {"field": "s", "type": "nominal", "scale": {"domain": ["Preluci (Corbu)", "Zmeu", "Nichitas", "S.Mare (Mariilor)", "Gagi", "S.Mare (Gagi)"], "range": ["#00CCFF", "#3366FF", "#33CCCC", "#333399", "#993366", "#FF9900"]}, "legend": null}
     }},
    {"data": {"values": [{}]},
     "mark": {"type": "rule", "stroke": "black", "strokeWidth": 2},
     "encoding": {
       "x": {"datum": -1209, "type": "quantitative", "scale": {"domain": [0, 13300], "nice": false, "zero": false}},
       "y": {"datum": 96.95, "type": "quantitative", "scale": {"domain": [-10, 90], "nice": false, "zero": false}},
       "y2": {"datum": -24}
     }},
    {"data": {"name": "botlab"},
     "mark": {"type": "rect", "fill": "#707070", "xOffset": 2, "yOffset": 2},
     "encoding": {
       "x": {"field": "xl", "type": "quantitative", "scale": {"domain": [0, 13300], "nice": false, "zero": false}},
       "x2": {"field": "xr"},
       "y": {"field": "yb", "type": "quantitative", "scale": {"domain": [-10, 90], "nice": false, "zero": false}},
       "y2": {"field": "yt"}
     }},
    {"data": {"name": "botlab"},
     "mark": {"type": "rect", "fill": "white", "stroke": "black", "strokeWidth": 1.2},
     "encoding": {
       "x": {"field": "xl", "type": "quantitative", "scale": {"domain": [0, 13300], "nice": false, "zero": false}},
       "x2": {"field": "xr"},
       "y": {"field": "yb", "type": "quantitative", "scale": {"domain": [-10, 90], "nice": false, "zero": false}},
       "y2": {"field": "yt"}
     }},
    {"data": {"name": "botlab"},
     "mark": {"type": "text", "font": "DejaVu Sans", "fontWeight": "bold", "fontSize": 14, "color": "black", "align": "center", "baseline": "middle"},
     "encoding": {
       "x": {"field": "xc", "type": "quantitative", "scale": {"domain": [0, 13300], "nice": false, "zero": false}},
       "y": {"field": "yc", "type": "quantitative", "scale": {"domain": [-10, 90], "nice": false, "zero": false}},
       "text": {"field": "t"}
     }}
  ]
}
]
}
